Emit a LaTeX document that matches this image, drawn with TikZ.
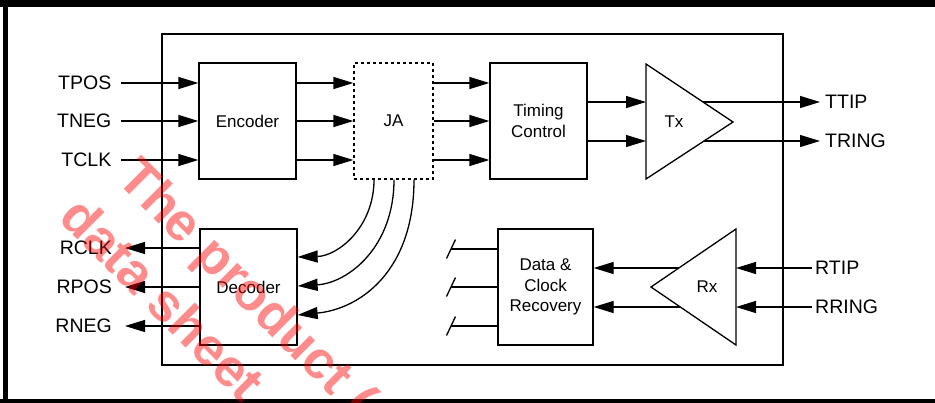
\documentclass[tikz,border=0pt]{standalone}
\usepackage{fontspec}
\setmainfont{Liberation Sans}
\usetikzlibrary{arrows.meta,calc}
\begin{document}
\begin{tikzpicture}[x=1pt,y=-1pt,
  thin/.style={line width=1.3pt},
  arr/.style={line width=1.3pt,-{Triangle[length=20pt,width=12pt]}},
  blk/.style={draw,line width=1.3pt,inner sep=0pt,minimum width=97pt,minimum height=116pt,font=\fontsize{17}{20.5}\selectfont,align=center},
  inlab/.style={inner sep=0pt,font=\fontsize{17}{20.5}\selectfont},
  outlab/.style={inner ysep=0pt,font=\fontsize{19.5}{22}\selectfont},
  wm/.style={rotate=-45,anchor=base west,inner sep=0pt,text=red,opacity=0.45,font=\fontsize{53}{53}\selectfont\bfseries}]
\useasboundingbox (0,0) rectangle (935,402);
% outer frame
\draw[line width=7pt] (0,3.5) -- (935,3.5);
\draw[line width=5pt] (5,0) -- (5,402);
\draw[line width=5pt] (0,401.5) -- (935,401.5);
% inner box
\draw[line width=2.6pt] (162,34) rectangle (783,365);
% blocks
\node[blk] (enc) at (247.5,121) {Encoder};
\node[blk,dashed,minimum width=79pt] (ja) at (393.5,121) {JA};
\node[blk] (tim) at (538.5,121) {Timing\\Control};
\node[blk] (dec) at (248.5,287) {Decoder};
\node[blk,minimum width=95pt] (dcr) at (545.5,287) {Data \&\\Clock\\Recovery};
% Tx triangle
\coordinate (txa) at (646,64);
\coordinate (txb) at (646,179);
\coordinate (txc) at (733,122);
\draw[thin,line join=miter] (txa) -- (txc) -- (txb) -- cycle;
\node[inlab] (tx) at (674,122) {Tx};
% Rx triangle
\coordinate (rxa) at (736,229);
\coordinate (rxb) at (736,345);
\coordinate (rxc) at (651,287);
\draw[thin,line join=miter] (rxa) -- (rxc) -- (rxb) -- cycle;
\node[inlab] (rx) at (707,287) {Rx};
% left input labels
\node[outlab,anchor=east,inner xsep=9.5pt] (tpos) at (121,83) {TPOS};
\node[outlab,anchor=east,inner xsep=9.5pt] (tneg) at (121,121) {TNEG};
\node[outlab,anchor=east,inner xsep=9.5pt] (tclk) at (121,160) {TCLK};
\draw[arr] (tpos.east) -- (enc.west |- tpos.east);
\draw[arr] (tneg.east) -- (enc.west |- tneg.east);
\draw[arr] (tclk.east) -- (enc.west |- tclk.east);
% encoder -> JA -> timing
\foreach \y in {83,121,160} {
  \draw[arr] (enc.east |- 0,\y) -- (ja.west |- 0,\y);
  \draw[arr] (ja.east |- 0,\y) -- (tim.west |- 0,\y);
}
% timing -> Tx
\coordinate (tx1) at (646,102);
\coordinate (tx2) at (646,141);
\draw[arr] (tim.east |- tx1) -- (tx1);
\draw[arr] (tim.east |- tx2) -- (tx2);
% Tx outputs
\node[outlab,anchor=west,inner xsep=5pt] (ttip) at (820,102) {TTIP};
\node[outlab,anchor=west,inner xsep=5pt] (tring) at (820,141) {TRING};
\coordinate (txo1) at (703,102);
\coordinate (txo2) at (704,141);
\draw[arr] (txo1) -- (ttip.west);
\draw[arr] (txo2) -- (tring.west);
% decoder outputs
\node[outlab,anchor=east,inner xsep=13pt] (rclk) at (125,248) {RCLK};
\node[outlab,anchor=east,inner xsep=13pt] (rpos) at (125,287) {RPOS};
\node[outlab,anchor=east,inner xsep=13pt] (rneg) at (125,326) {RNEG};
\draw[arr] (dec.west |- rclk.east) -- (rclk.east);
\draw[arr] (dec.west |- rpos.east) -- (rpos.east);
\draw[arr] (dec.west |- rneg.east) -- (rneg.east);
% JA -> decoder curves
\draw[arr] ($(ja.south)+(-19.5,0)$) .. controls ($(ja.south)+(-19.5,48)$) and ($(dec.east)+(40,-31)$) .. ($(dec.east)+(0,-30)$);
\draw[arr] ($(ja.south)+(0.5,0)$) .. controls ($(ja.south)+(0.5,68)$) and ($(dec.east)+(50,-4)$) .. ($(dec.east)+(0,-1)$);
\draw[arr] ($(ja.south)+(20.5,0)$) .. controls ($(ja.south)+(20.5,92)$) and ($(dec.east)+(62,22)$) .. ($(dec.east)+(0,28)$);
% DCR left stubs
\foreach \y/\n in {249/a,287/b,326/c} {
  \coordinate (s\n) at (451,\y);
  \draw[thin] (dcr.west |- s\n) -- (s\n);
  \draw[thin] ($(s\n)+(-4.5,9.5)$) -- ($(s\n)+(4.5,-9.5)$);
}
% Rx -> DCR
\coordinate (rxo1) at (679,268);
\coordinate (rxo2) at (680,307);
\draw[arr] (rxo1) -- (dcr.east |- rxo1);
\draw[arr] (rxo2) -- (dcr.east |- rxo2);
% Rx inputs
\node[outlab,anchor=west,inner xsep=3pt] (rtip) at (812,268) {RTIP};
\node[outlab,anchor=west,inner xsep=3pt] (rring) at (812,307) {RRING};
\draw[arr] (rtip.west) -- (rxa |- rtip.west);
\draw[arr] (rring.west) -- (rxa |- rring.west);
% watermark
\begin{scope}
\clip (0,0) rectangle (935,402);
\node[wm] (wm1) at (115,180) {The product (};
\node[wm] (wm2) at (57,219) {data sheet};
\end{scope}
\end{tikzpicture}
\end{document}
